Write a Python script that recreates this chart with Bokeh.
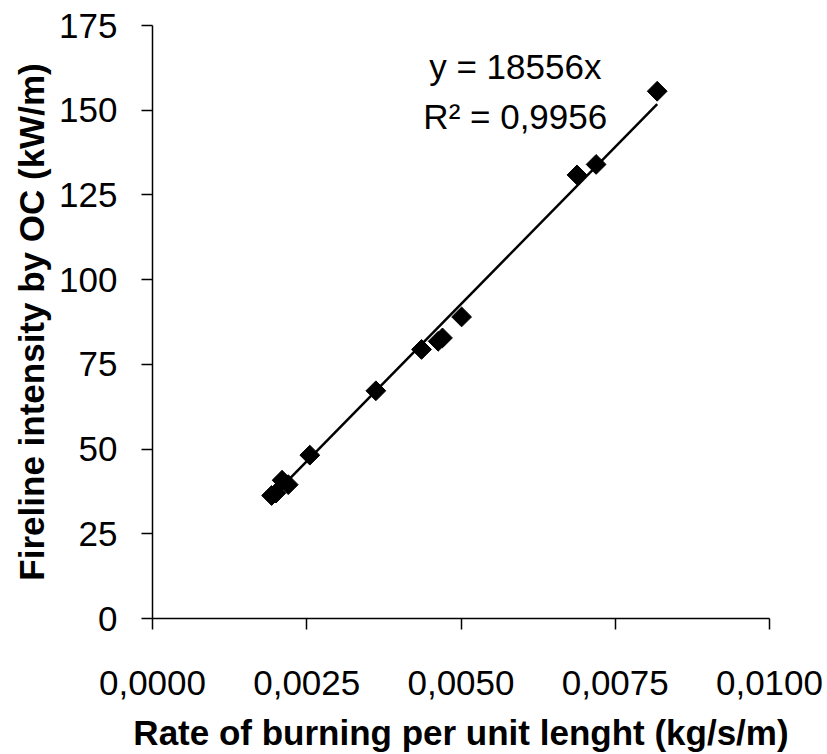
import math
from bokeh.plotting import figure
from bokeh.models import FixedTicker, Label, Range1d
from bokeh.embed import file_html
from bokeh.resources import INLINE

# Data
rate = [0.00193, 0.00200, 0.00210, 0.00220, 0.00255, 0.00362, 0.00436,
        0.00463, 0.00470, 0.00501, 0.00688, 0.00719, 0.00818]
intensity = [36.3, 37.0, 40.8, 39.5, 48.2, 67.2, 79.4,
             81.8, 82.8, 89.0, 130.9, 134.0, 155.6]
slope = 18556
eq_text = "y = 18556x"
r2_text = "R\u00b2 = 0,9956"
x_title = "Rate of burning per unit lenght (kg/s/m)"
y_title = "Fireline intensity by OC (kW/m)"

x_ticks = [0.0, 0.0025, 0.005, 0.0075, 0.01]
x_tick_labels = ["0,0000", "0,0025", "0,0050", "0,0075", "0,0100"]
y_ticks = [0, 25, 50, 75, 100, 125, 150, 175]

FONT = "Liberation Sans"

p = figure(width=827, height=754, output_backend="svg", toolbar_location=None,
           x_range=Range1d(0, 0.01), y_range=Range1d(0, 175),
           min_border_left=152, min_border_right=58,
           min_border_top=25, min_border_bottom=136)
p.outline_line_color = None
p.xgrid.visible = False
p.ygrid.visible = False
p.background_fill_color = "white"
p.border_fill_color = "white"

# trend line y = 18556x over the range of the data
tx = [min(rate), max(rate)]
ty = [slope * v for v in tx]
p.line(tx, ty, line_color="black", line_width=2.5)

# points (diamonds: squares rotated 45 degrees)
p.scatter(rate, intensity, marker="square", size=14, angle=math.pi / 4,
          fill_color="black", line_color="black")

for ax in (p.xaxis[0], p.yaxis[0]):
    ax.axis_line_color = "black"
    ax.axis_line_width = 1.5
    ax.major_tick_line_color = "black"
    ax.major_tick_line_width = 1.5
    ax.major_tick_in = 0
    ax.major_tick_out = 11
    ax.minor_tick_line_color = None
    ax.major_label_text_font = FONT
    ax.major_label_text_font_size = "35px"
    ax.major_label_text_color = "black"
    ax.axis_label_text_font = FONT
    ax.axis_label_text_font_size = "35px"
    ax.axis_label_text_font_style = "bold"
    ax.axis_label_text_color = "black"

p.xaxis[0].ticker = FixedTicker(ticks=x_ticks)
p.xaxis[0].major_label_overrides = {t: l for t, l in zip(x_ticks, x_tick_labels)}
p.xaxis[0].major_label_standoff = 41
p.xaxis[0].axis_label = x_title
p.xaxis[0].axis_label_standoff = 15

p.yaxis[0].ticker = FixedTicker(ticks=y_ticks)
p.yaxis[0].major_label_standoff = 24
p.yaxis[0].axis_label = y_title
p.yaxis[0].axis_label_standoff = 5

for txt, yv in ((eq_text, 162.8), (r2_text, 148.1)):
    p.add_layout(Label(x=0.00588, y=yv, text=txt, text_align="center",
                       text_baseline="alphabetic", text_font=FONT,
                       text_font_size="35px", text_color="black"))

open("out.html", "w").write(file_html(p, INLINE))
